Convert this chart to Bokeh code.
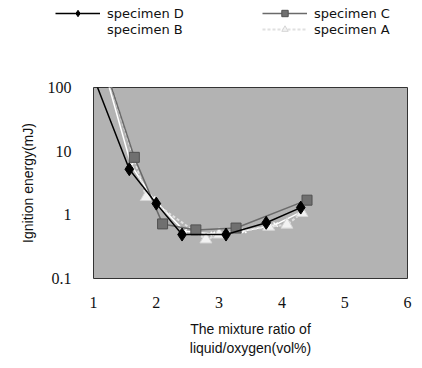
from bokeh.plotting import figure
from bokeh.models import (Range1d, FixedTicker, CustomJSTickFormatter, Legend, LegendItem)
from bokeh.embed import file_html
from bokeh.resources import INLINE

# data
d_x = [1.02, 1.57, 2.0, 2.41, 3.11, 3.75, 4.3]
d_y = [130, 5.2, 1.5, 0.49, 0.49, 0.75, 1.3]

c_x = [1.25, 1.65, 2.1, 2.63, 3.27, 4.4]
c_y = [130, 8.0, 0.72, 0.58, 0.62, 1.7]

b_x = [1.22, 1.6, 1.95, 2.45, 2.9, 3.4, 3.9, 4.3]
b_y = [130, 6.0, 1.8, 0.55, 0.5, 0.56, 0.7, 1.1]

a_x = [1.25, 1.84, 2.79, 3.0, 3.79, 4.08, 4.32]
a_y = [130, 1.9, 0.41, 0.49, 0.65, 0.7, 1.07]

x_ticks = [1, 2, 3, 4, 5, 6]
y_ticks = [0.1, 1, 10, 100]

SERIF = "Liberation Serif"
SANS = "Liberation Sans"

STYLES = {
    "D": dict(line=dict(line_color="black", line_width=1.5),
              mark=dict(marker="diamond", size=13, fill_color="black", line_color="black")),
    "C": dict(line=dict(line_color="#6a6a6a", line_width=1.5),
              mark=dict(marker="square", size=10, fill_color="#707070", line_color="#505050")),
    "B": dict(line=dict(line_color="white", line_width=1.5),
              mark=dict(marker="x", size=6, line_color="white", line_width=1.5)),
    "A": dict(line=dict(line_color="#e0e0e0", line_width=2, line_dash="3 2"),
              mark=dict(marker="triangle", size=12, fill_color="#f2f2f2", line_color="#d6d6d6")),
}
SERIES = {"D": (d_x, d_y), "C": (c_x, c_y), "B": (b_x, b_y), "A": (a_x, a_y)}

# ---------------- main plot ----------------
p = figure(width=422, height=328, y_axis_type="log",
           x_range=Range1d(1, 6), y_range=Range1d(0.1, 100),
           output_backend="svg", toolbar_location=None,
           min_border_left=93, min_border_right=15,
           min_border_top=47, min_border_bottom=90)

p.background_fill_color = "#b3b3b3"
p.border_fill_color = "white"
p.outline_line_color = "#333333"
p.outline_line_width = 1
p.grid.visible = False

for ax in (p.xaxis[0], p.yaxis[0]):
    ax.axis_line_color = None
    ax.major_tick_line_color = None
    ax.minor_tick_line_color = None
    ax.major_label_text_font = SERIF
    ax.major_label_text_font_size = "16px"
    ax.major_label_text_color = "#111111"
    ax.axis_label_text_font = SANS
    ax.axis_label_text_font_style = "normal"
    ax.axis_label_text_color = "#111111"

p.xaxis.ticker = FixedTicker(ticks=x_ticks)
p.yaxis.ticker = FixedTicker(ticks=y_ticks)
p.yaxis.formatter = CustomJSTickFormatter(code="return tick.toString();")
p.xaxis.major_label_standoff = 12
p.yaxis.major_label_standoff = 16

p.xaxis.axis_label = "The mixture ratio of\nliquid/oxygen(vol%)"
p.xaxis.axis_label_text_font_size = "14px"
p.xaxis.axis_label_standoff = 10
p.yaxis.axis_label = "Ignition energy(mJ)"
p.yaxis.axis_label_text_font_size = "14px"
p.yaxis.axis_label_standoff = 9

for k in ["B", "A", "C", "D"]:
    xs, ys = SERIES[k]
    p.line(xs, ys, **STYLES[k]["line"])
    p.scatter(xs, ys, **STYLES[k]["mark"])

# ---------------- legend strip (separate root, not frame-aligned) ----------------
lf = figure(width=422, height=40, x_range=Range1d(-10, -9), y_range=Range1d(-10, -9),
            y_axis_type="log",
            output_backend="svg", toolbar_location=None,
            min_border=0, x_axis_location=None, y_axis_location=None)
lf.outline_line_color = None
lf.background_fill_color = "white"
lf.border_fill_color = "white"
lf.grid.visible = False

items = {}
for k in ["D", "C", "B", "A"]:
    xs, ys = SERIES[k]
    rl = lf.line(xs, ys, **STYLES[k]["line"])
    rm = lf.scatter(xs, ys, **STYLES[k]["mark"])
    items[k] = LegendItem(label="specimen " + k, renderers=[rl, rm])

legend = Legend(items=[items["D"], items["B"], items["C"], items["A"]],
                ncols=2, location=(55, 3))
legend.background_fill_alpha = 0
legend.border_line_color = None
legend.glyph_width = 45
legend.glyph_height = 16
legend.label_standoff = 7
legend.label_width = 155
legend.spacing = 0
legend.padding = 0
legend.margin = 0
legend.label_text_font = "DejaVu Sans"
legend.label_text_font_size = "13px"
legend.label_text_color = "#111111"
legend.label_height = 16
lf.add_layout(legend, "center")

open("out.html", "w").write(file_html([lf, p], INLINE))
